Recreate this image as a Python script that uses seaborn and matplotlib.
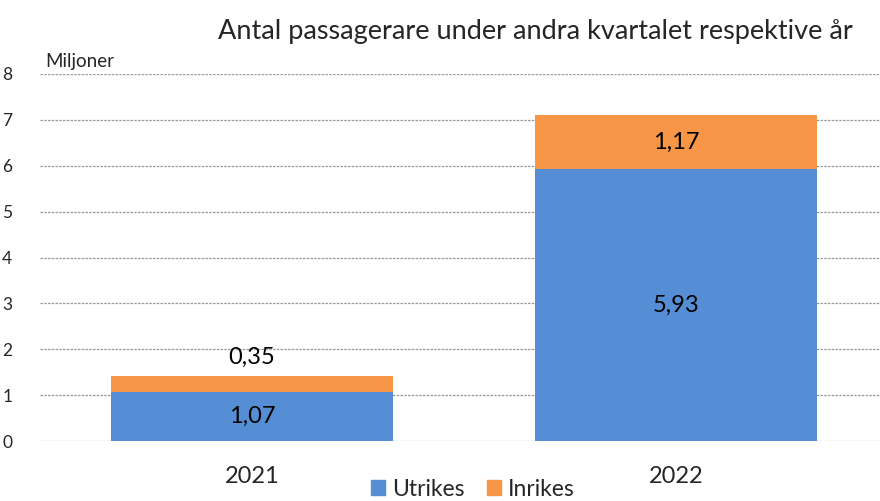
import matplotlib
matplotlib.use("Agg")
import matplotlib.pyplot as plt
import seaborn as sns
import pandas as pd
from matplotlib.patches import Patch

years = ["2021", "2022"]
utrikes = [1.07, 5.93]
inrikes = [0.35, 1.17]
utrikes_labels = ["1,07", "5,93"]
inrikes_labels = ["0,35", "1,17"]
yticks = [0, 1, 2, 3, 4, 5, 6, 7, 8]

sns.set_theme(style="white")
plt.rcParams['font.family'] = ['Lato', 'DejaVu Sans']

blue = "#558ED5"
orange = "#F79646"

fig = plt.figure(figsize=(8.8, 5.01), dpi=100)
ax = fig.add_axes([40/880, 60/501, 848/880, 367/501])

df = pd.DataFrame({"year": years, "utrikes": utrikes, "inrikes": inrikes})
sns.barplot(data=df, x="year", y="utrikes", color=blue, width=0.665, ax=ax,
            saturation=1, zorder=3, linewidth=0)
sns.barplot(data=df, x="year", y="inrikes", color=orange, width=0.665, ax=ax,
            saturation=1, bottom=df["utrikes"], zorder=3, linewidth=0)

ax.set_ylim(0, 8)
ax.set_xlim(-0.5, 1.5)
ax.set_yticks(yticks)
ax.yaxis.grid(True, linestyle=(0, (2, 1)), color="#999999", linewidth=0.9, zorder=0)
ax.set_axisbelow(True)
for s in ax.spines.values():
    s.set_visible(False)
ax.tick_params(axis="y", length=0, pad=20, labelsize=12.5)
ax.tick_params(axis="x", length=0, pad=18, labelsize=17)
ax.set_xlabel("")
ax.set_ylabel("")

for i in range(len(years)):
    u, r = utrikes[i], inrikes[i]
    ax.text(i, u / 2, utrikes_labels[i], ha="center", va="center", fontsize=17, color="black", zorder=5)
    if r < 0.5:
        ax.text(i, u + r + 0.4, inrikes_labels[i], ha="center", va="center", fontsize=17, color="black", zorder=5)
    else:
        ax.text(i, u + r / 2, inrikes_labels[i], ha="center", va="center", fontsize=17, color="black", zorder=5)

fig.text(535/880, 1 - 32/501, "Antal passagerare under andra kvartalet respektive år",
         ha="center", va="center", fontsize=19.5)
fig.text(45/880, 1 - 62/501, "Miljoner", ha="left", va="center", fontsize=13.5)

handles = [Patch(color=blue, label="Utrikes"), Patch(color=orange, label="Inrikes")]
fig.legend(handles=handles, loc="center", bbox_to_anchor=(473/880, 1 - 489/501), ncol=2,
           frameon=False, fontsize=16.5, handlelength=0.6, handleheight=0.6,
           handletextpad=0.3, columnspacing=1.0, borderpad=0)

fig.savefig("out.png", dpi=100)
